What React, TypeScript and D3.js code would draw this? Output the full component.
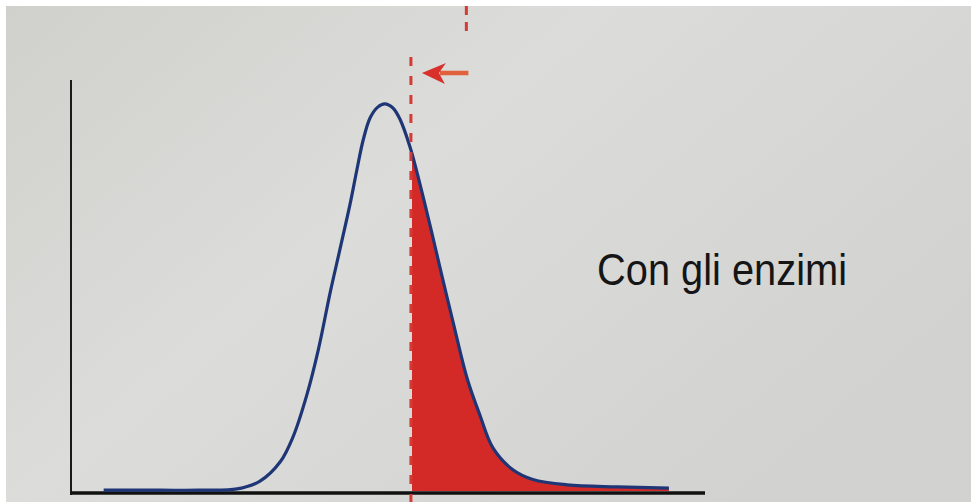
import React from "react";
import * as d3 from "d3";

// Distribution curve, arbitrary units
const curveX = [5, 14, 20, 26.1, 29.7, 32.9, 34.9, 37.1, 38.9, 40.8, 42.3, 43.9, 45, 46, 47.1, 48.3, 49.4, 50.7, 51.8, 53.4, 55, 57, 58.6, 60.2, 62.4, 64.5, 66.5, 69.7, 72.8, 78.2, 86.1, 94.3];
const curveY = [0.2, 0.2, 0.2, 0.5, 2.4, 7.1, 13.1, 23.4, 34.3, 48.4, 58.6, 69.6, 78.1, 85.4, 90.8, 93.4, 94.2, 93.2, 90.5, 83.7, 74.5, 61.8, 51.3, 41.1, 27.5, 18.2, 10.5, 5.1, 2.8, 1.5, 1.0, 0.7];
const threshold = 53.7; // activation energy with enzymes
const previousThreshold = 62.3; // former threshold (top dashed line)
const label = "Con gli enzimi";

const W = 971;
const H = 502;

export default function App() {
  const x = d3.scaleLinear().domain([0, 100]).range([72, 705]);
  const y = d3.scaleLinear().domain([0, 100]).range([491, 80]);
  const pts: [number, number][] = curveX.map((v, i) => [v, curveY[i]]);
  const line = d3
    .line<[number, number]>()
    .x((d) => x(d[0]))
    .y((d) => y(d[1]))
    .curve(d3.curveCatmullRom.alpha(0.5));
  const area = d3
    .area<[number, number]>()
    .x((d) => x(d[0]))
    .y0(y(0))
    .y1((d) => y(d[1]))
    .curve(d3.curveCatmullRom.alpha(0.5));
  const tx = x(threshold);
  const px = x(previousThreshold);
  const arrowY = 73;

  return (
    <svg
      width={W}
      height={H}
      style={{ position: "fixed", left: 0, top: 0, display: "block" }}
      xmlns="http://www.w3.org/2000/svg"
    >
      <defs>
        <linearGradient id="paper" x1="0" y1="0" x2="1" y2="0.6">
          <stop offset="0" stopColor="#d0d0cc" />
          <stop offset="0.45" stopColor="#dcdcda" />
          <stop offset="1" stopColor="#d2d2d0" />
        </linearGradient>
        <clipPath id="rightOf">
          <rect x={tx} y={0} width={W - tx} height={y(0) + 1} />
        </clipPath>
      </defs>
      <rect width={W} height={H} fill="#ffffff" />
      <rect x={6} y={6} width={W - 6} height={H - 6} fill="url(#paper)" />

      {/* red region under curve beyond the threshold */}
      <path d={area(pts) || ""} fill="#d42a27" clipPath="url(#rightOf)" />

      {/* axes */}
      <line x1={x(0) - 1} x2={x(0) - 1} y1={y(100)} y2={y(0) + 4} stroke="#1a1a1a" strokeWidth={2} />
      <line x1={x(0) - 1} x2={x(100)} y1={y(0) + 2} y2={y(0) + 2} stroke="#111111" strokeWidth={3.5} />

      {/* curve */}
      <path d={line(pts) || ""} fill="none" stroke="#1e3676" strokeWidth={3.2} strokeLinejoin="round" />

      {/* dashed threshold lines */}
      <line x1={tx - 1} x2={tx - 1} y1={57} y2={H} stroke="#d63a34" strokeWidth={3} strokeDasharray="9 10" />
      <line x1={px} x2={px} y1={6} y2={33} stroke="#d63a34" strokeWidth={3} strokeDasharray="9 7" />

      {/* arrow */}
      <line x1={px + 2} x2={tx + 28} y1={arrowY} y2={arrowY} stroke="#e0613c" strokeWidth={4.5} />
      <path
        d={`M${tx + 10},${arrowY} L${tx + 34},${arrowY - 10} L${tx + 27},${arrowY} L${tx + 33},${arrowY + 11} Z`}
        fill="#d8312c"
      />

      <text
        x={597}
        y={285}
        fontFamily="Liberation Sans, Arial, sans-serif"
        fontSize={44}
        fill="#151515"
        textLength={250}
        lengthAdjust="spacingAndGlyphs"
      >
        {label}
      </text>
    </svg>
  );
}
